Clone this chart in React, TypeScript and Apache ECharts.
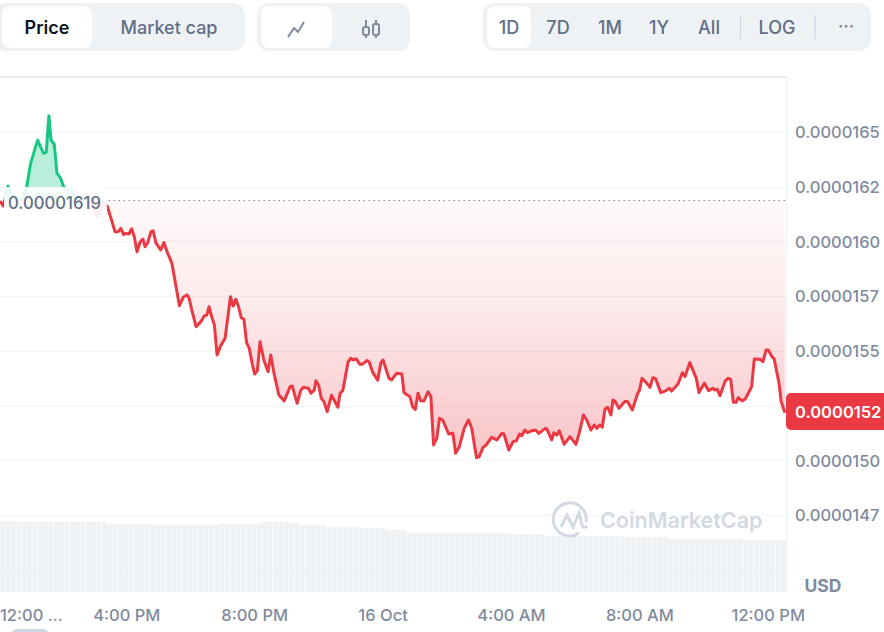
import {useEffect, useRef} from "react";
import * as echarts from "echarts";

// minutes since midnight on 15 Oct
const times = [
    723, 729, 738, 745, 764, 773, 780, 793, 804, 809, 814, 818, 824, 829, 835, 841, 850, 857, 863, 872, 887, 894, 904, 915, 923,
    937, 943, 948, 953, 956, 963, 968, 973, 978, 984, 989, 993, 998, 1004, 1008, 1013, 1018, 1022, 1028, 1034, 1043, 1057, 1064,
    1071, 1075, 1080, 1088, 1097, 1103, 1108, 1112, 1117, 1122, 1127, 1133, 1142, 1152, 1157, 1162, 1167, 1172, 1177, 1182, 1187,
    1193, 1197, 1202, 1207, 1214, 1222, 1227, 1233, 1242, 1252, 1263, 1267, 1276, 1283, 1288, 1297, 1302, 1308, 1311, 1316, 1321,
    1326, 1332, 1340, 1352, 1356, 1361, 1371, 1376, 1381, 1386, 1393, 1397, 1406, 1410, 1417, 1426, 1432, 1436, 1447, 1452, 1461,
    1471, 1475, 1486, 1491, 1496, 1501, 1506, 1512, 1520, 1525, 1530, 1536, 1541, 1547, 1558, 1566, 1571, 1578, 1587, 1595, 1601,
    1610, 1615, 1622, 1628, 1638, 1648, 1657, 1661, 1670, 1678, 1684, 1690, 1694, 1700, 1705, 1713, 1720, 1726, 1738, 1741, 1750,
    1754, 1759, 1764, 1773, 1784, 1795, 1801, 1809, 1815, 1823, 1829, 1834, 1839, 1844, 1849, 1854, 1860, 1864, 1868, 1875, 1886,
    1891, 1900, 1910, 1913, 1918, 1926, 1933, 1938, 1943, 1953, 1961, 1969, 1973, 1985, 1993, 1998, 2007, 2019, 2024, 2034, 2042,
    2050, 2053, 2058, 2063, 2073, 2078, 2083, 2088, 2093, 2097, 2104, 2110, 2122, 2127, 2138, 2143, 2149, 2153, 2160, 2164, 2173,
    2177, 2184,
];

// price in units of 0.0000001 USD
const prices = [
    161.85, 161.62, 162.53, 162.12, 161.9, 162.53, 163.57, 164.63, 164.03, 164.07, 165.74, 164.63, 164.44, 163.11, 162.93, 162.53,
    162.26, 162.35, 161.9, 161.9, 162.03, 161.67, 161.16, 161.76, 161.59,
    160.45, 160.45, 160.6, 160.31, 160.37, 160.34, 160.58, 160.22, 159.53, 159.99, 160.11, 159.76, 159.95, 160.45, 160.49, 159.95,
    159.76, 159.61, 159.95, 159.53, 159.0, 157.07, 157.45, 157.56, 157.41, 156.87, 156.11, 156.34, 156.6, 156.64, 157.02, 156.57,
    156.19, 154.82, 155.2, 155.58, 157.48, 157.05, 157.36, 157.02, 156.52, 156.45, 155.38, 155.12, 154.36, 153.95, 154.1, 155.42,
    154.59, 154.05, 154.82, 153.98, 152.99, 152.72, 153.37, 153.4, 152.61, 153.22, 153.34, 153.3, 153.07, 153.22, 153.64, 153.45,
    152.84, 152.69, 152.23, 152.98, 152.43, 153.07, 153.19, 154.51, 154.67, 154.59, 154.64, 154.39, 154.39, 154.56, 154.51, 154.01,
    153.67, 154.47, 154.59, 153.75, 153.68, 153.98, 153.95, 153.1, 152.91, 152.46, 152.33, 153.07, 152.73, 152.72, 153.14, 152.91,
    150.71, 151.01, 151.93, 151.85, 151.21, 151.24, 150.33, 150.63, 151.47, 151.85, 151.47, 150.13, 150.17, 150.6, 150.71, 151.06,
    150.94, 151.24, 151.21, 150.48, 150.86, 150.9, 151.21, 151.13, 151.39, 151.27, 151.36, 151.39, 151.24, 151.47, 151.43, 150.94,
    151.27, 151.16, 151.36, 150.74, 151.09, 150.74, 151.24, 152.08, 151.85, 151.39, 151.62, 151.47, 151.62, 151.52, 152.34, 152.43,
    152.08, 152.76, 152.69, 152.38, 152.69, 152.69, 152.31, 153.07, 153.19, 153.75, 153.55, 153.34, 153.78, 153.75, 153.1, 153.17,
    153.3, 153.17, 153.49, 154.01, 153.83, 154.47, 153.75, 153.1, 153.53, 153.19, 153.3, 153.22, 153.25, 152.96, 153.64, 153.75,
    153.71, 152.66, 152.66, 152.87, 152.72, 152.8, 153.37, 154.64, 154.62, 154.51, 155.05, 155.05, 154.74, 154.64, 153.53, 152.69,
    152.18,
];

const volumes = [
    71, 71, 71,
    70, 70, 70, 70, 70, 70, 70, 70, 70, 70, 70, 70, 70, 70, 70, 70, 70,
    68, 68, 68, 68, 68, 68, 68, 68,
    67, 67, 67, 67, 67, 67, 67, 67, 67, 67, 67, 67, 67,
    68, 68, 68, 68, 68, 68, 68, 68,
    70, 70, 70, 70, 70,
    69, 69,
    67, 67, 67, 67, 67,
    65, 65, 65, 65, 65, 65,
    64, 64, 64, 64, 64,
    62, 62, 62, 62,
    59, 59, 59, 59, 59, 59, 59, 59, 59, 59, 59, 59, 59, 59, 59, 59, 59, 59, 59,
    58, 58, 58, 58, 58, 58, 58,
    56, 56, 56, 56, 56, 56, 56, 56, 56, 56, 56, 56, 56, 56,
    55, 55, 55, 55, 55, 55, 55, 55, 55,
    53, 53, 53, 53, 53, 53, 53, 53, 53, 53, 53, 53, 53, 53,
    52, 52, 52, 52, 52, 52, 52, 52,
];

const xTickTimes = [723, 959, 1197, 1436, 1675, 1914, 2153];
const xTickLabels = ["12:00 ...", "4:00 PM", "8:00 PM", "16 Oct", "4:00 AM", "8:00 AM", "12:00 PM"];
const openPrice = 161.9;
const lastTick = 152.5;
const openLabel = "0.00001619";
const lastLabel = "0.0000152";
const rangeLabels = ["1D", "7D", "1M", "1Y", "All"];
const rangeCenters = [509, 558, 610, 659, 709];

const FONT = "Inter";
const GREEN = "#16c784";
const RED = "#ea3943";
const GRAY = "#808a9d";
const SLATE = "#616e85";
const PILL = "#eff2f5";

echarts.graphic.registerShape("cmcLogo", echarts.graphic.extendPath(
    "M33 20 A16.5 16.5 0 1 0 26 31 M8 25 L14 13 L20 25 L26 11 L29 23 Q30 27 34 24", {}) as any);

function text(str: string, x: number, y: number, fill: string, fontSize = 18, fontWeight = 500, textAlign = "center") {
    return {type: "text", z: 20, x, y, style: {text: str, fill, font: `${fontWeight} ${fontSize}px ${FONT}`, textAlign, textVerticalAlign: "middle"}};
}

function box(x: number, y: number, width: number, height: number, r: number, fill: string, z = 19) {
    return {type: "rect", z, shape: {x, y, width, height, r}, style: {fill}};
}

function toolbar() {
    const iconStroke = {stroke: GRAY, lineWidth: 2, fill: "none"};
    return [
        box(-6, 3, 251, 48, 12, PILL),
        box(2, 6, 90, 42, 8, "#fff"),
        text("Price", 47, 27, "#0d1421", 18, 600),
        text("Market cap", 169, 27, SLATE, 18, 500),
        box(257, 3, 153, 48, 12, PILL),
        box(261, 6, 71, 42, 8, "#fff"),
        {type: "polyline", z: 20, shape: {points: [[288, 37], [294, 28], [298, 32], [304, 22]]}, style: {...iconStroke}},
        {type: "line", z: 20, shape: {x1: 366, y1: 20, x2: 366, y2: 38}, style: {...iconStroke}},
        {type: "line", z: 20, shape: {x1: 376, y1: 20, x2: 376, y2: 38}, style: {...iconStroke}},
        {type: "rect", z: 21, shape: {x: 363, y: 27, width: 6, height: 8, r: 2}, style: {...iconStroke, fill: PILL}},
        {type: "rect", z: 21, shape: {x: 373, y: 24, width: 6, height: 11, r: 2}, style: {...iconStroke, fill: PILL}},
        box(483, 3, 388, 48, 12, PILL),
        box(487, 6, 44, 42, 8, "#fff"),
        ...rangeLabels.map((r, i) => text(r, rangeCenters[i], 27, SLATE, 18, 500)),
        {type: "line", z: 20, shape: {x1: 740.5, y1: 15, x2: 740.5, y2: 39}, style: {stroke: "#cfd6e4", lineWidth: 1}},
        text("LOG", 777, 27, SLATE, 18, 500),
        {type: "line", z: 20, shape: {x1: 815, y1: 15, x2: 815, y2: 39}, style: {stroke: "#cfd6e4", lineWidth: 1.5}},
        text("···", 846, 26, GRAY, 16, 700),
    ];
}

export default function App() {
    const domRef = useRef<HTMLDivElement>(null);

    useEffect(() => {
        if (!domRef.current) return;
        const chart = echarts.init(domRef.current, undefined, {renderer: "svg"});
        const baseStop = 200 / 632;
        chart.setOption({
            animation: false,
            textStyle: {fontFamily: FONT},
            grid: [
                {left: 0, width: 786, top: 77.25, height: 492.75, outerBoundsMode: "none"},
                {left: 0, width: 786, top: 500, height: 92, outerBoundsMode: "none"},
            ],
            xAxis: [
                {
                    type: "value", gridIndex: 0, min: 723, max: 2186, offset: 22,
                    axisLine: {show: false}, axisTick: {show: false}, splitLine: {show: false},
                    axisLabel: {
                        customValues: xTickTimes, alignMinLabel: "left", margin: 14, color: GRAY, fontSize: 16.5, fontFamily: FONT, fontWeight: 500,
                        formatter: (v: number) => xTickLabels[xTickTimes.indexOf(v)],
                    },
                },
                {type: "category", gridIndex: 1, data: volumes.map((_, i) => i), show: false},
            ],
            yAxis: [
                {
                    type: "value", gridIndex: 0, position: "right", min: 145, max: 167.5, interval: 2.5,
                    axisLine: {show: true, lineStyle: {color: PILL, width: 1}}, axisTick: {show: false},
                    splitLine: {lineStyle: {color: "#f1f3f6", width: 1}},
                    axisLabel: {
                        showMinLabel: false, showMaxLabel: false, margin: 9, color: GRAY, fontSize: 16.5, fontFamily: FONT, fontWeight: 500,
                        formatter: (v: number) => (v === lastTick ? "" : `0.0000${Math.floor(v)}`),
                    },
                },
                {
                    type: "value", gridIndex: 1, position: "right", min: 0, max: 92,
                    axisLine: {show: true, lineStyle: {color: PILL, width: 1}}, axisTick: {show: false}, axisLabel: {show: false}, splitLine: {show: false},
                },
            ],
            series: [
                {
                    type: "bar", xAxisIndex: 1, yAxisIndex: 1, data: volumes, barCategoryGap: "8%", silent: true,
                    itemStyle: {color: "#eff2f5"},
                },
                {
                    type: "line", xAxisIndex: 0, yAxisIndex: 0, z: 5, showSymbol: false, symbol: "none", silent: true,
                    data: times.map((t, i) => [t, prices[i]]),
                    lineStyle: {
                        width: 3, join: "round",
                        color: {
                            type: "linear", global: true, x: 0, y: 0, x2: 0, y2: 632,
                            colorStops: [{offset: 0, color: GREEN}, {offset: baseStop, color: GREEN}, {offset: baseStop, color: RED}, {offset: 1, color: RED}],
                        },
                    },
                    areaStyle: {
                        origin: openPrice, opacity: 1,
                        color: {
                            type: "linear", global: true, x: 0, y: 0, x2: 0, y2: 632,
                            colorStops: [
                                {offset: 0, color: "rgba(22,199,132,0.3)"},
                                {offset: baseStop, color: "rgba(22,199,132,0.3)"},
                                {offset: baseStop, color: "rgba(234,57,67,0.03)"},
                                {offset: 300 / 632, color: "rgba(234,57,67,0.1)"},
                                {offset: 460 / 632, color: "rgba(234,57,67,0.3)"},
                                {offset: 1, color: "rgba(234,57,67,0.3)"},
                            ],
                        },
                    },
                    markLine: {
                        silent: true, symbol: "none", label: {show: false},
                        lineStyle: {color: GRAY, type: [1.5, 3.5], width: 1.2},
                        data: [[{coord: [925, openPrice]}, {coord: [2186, openPrice]}]],
                    },
                },
            ],
            graphic: {
                elements: [
                    ...toolbar(),
                    {type: "line", z: 6, shape: {x1: 0, y1: 77, x2: 786, y2: 77}, style: {stroke: "#e6e8ec", lineWidth: 1.5}},
                    box(4, 187, 103, 31, 4, "rgba(255,255,255,0.9)", 10),
                    text(openLabel, 8, 203, SLATE, 16.7, 500, "left"),
                    box(786, 393, 104, 37, 5, RED),
                    text(lastLabel, 795, 412, "#fff", 16.5, 600, "left"),
                    text("USD", 823, 585, GRAY, 17.5, 700),
                    {type: "cmcLogo", z: 8, x: 553, y: 502, style: {fill: "none", stroke: "#d3d9e3", lineWidth: 3}},
                    {type: "text", z: 8, x: 600, y: 520, style: {text: "CoinMarketCap", fill: "#d3d9e3", font: `600 21.5px ${FONT}`, textVerticalAlign: "middle"}},
                    box(11, 629, 38, 12, 6, "#cfd6e4"),
                ],
            },
        });
        return () => chart.dispose();
    }, []);

    return <div ref={domRef} style={{position: "absolute", left: 0, top: 0, width: 884, height: 632}} />;
}
